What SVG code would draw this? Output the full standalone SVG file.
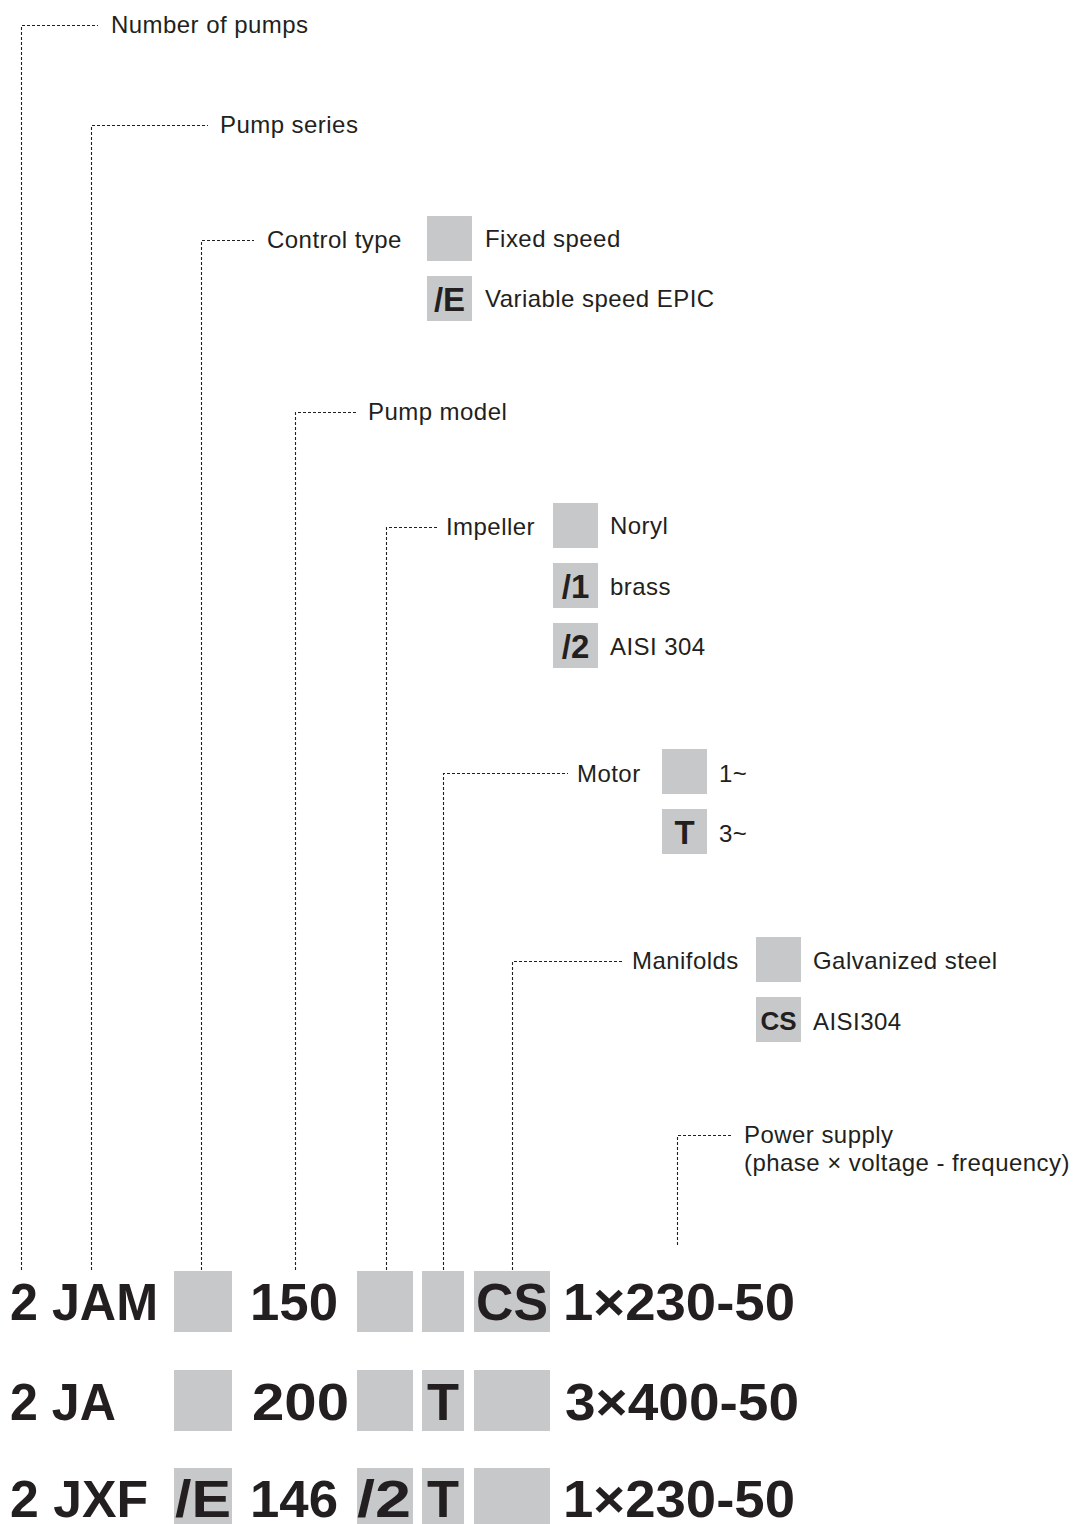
<svg xmlns="http://www.w3.org/2000/svg" width="1073" height="1524" viewBox="0 0 1073 1524">
<style>
.lbl{font-family:"Liberation Sans",Arial,sans-serif;font-size:24px;letter-spacing:0.45px;fill:#231f20}
.code{font-family:"Liberation Sans",Arial,sans-serif;font-weight:bold;font-size:33px;fill:#231f20;text-anchor:middle}
.big{font-family:"Liberation Sans",Arial,sans-serif;font-weight:bold;font-size:52px;fill:#231f20}
.box{fill:#c7c8ca}
.dash{fill:none;stroke:#231f20;stroke-width:1.1;stroke-dasharray:3 2}
</style>
<rect width="1073" height="1524" fill="#ffffff"/>
<g id="connectors">
<path class="dash" d="M21.5 1270 V25.5 H98"/>
<path class="dash" d="M91.5 1270 V125.5 H208"/>
<path class="dash" d="M201.5 1270 V240.5 H254"/>
<path class="dash" d="M295.5 1270 V412.5 H357"/>
<path class="dash" d="M386.5 1270 V527.5 H438"/>
<path class="dash" d="M443.5 1270 V773.5 H568"/>
<path class="dash" d="M512.5 1270 V961.5 H623"/>
<path class="dash" d="M677.5 1245 V1135.5 H733"/>
</g>
<g id="number-of-pumps"><text class="lbl" x="111" y="33">Number of pumps</text></g>
<g id="pump-series"><text class="lbl" x="220" y="133">Pump series</text></g>
<g id="control-type">
<text class="lbl" x="267" y="248">Control type</text>
<rect class="box" x="427" y="216" width="45" height="45"/>
<text class="lbl" x="485" y="247">Fixed speed</text>
<rect class="box" x="427" y="276" width="45" height="45"/>
<text class="code" x="449.5" y="311">/E</text>
<text class="lbl" x="485" y="307">Variable speed EPIC</text>
</g>
<g id="pump-model"><text class="lbl" x="368" y="420">Pump model</text></g>
<g id="impeller">
<text class="lbl" x="446" y="535">Impeller</text>
<rect class="box" x="553" y="503" width="45" height="45"/>
<text class="lbl" x="610" y="534">Noryl</text>
<rect class="box" x="553" y="563" width="45" height="45"/>
<text class="code" x="575.5" y="598">/1</text>
<text class="lbl" x="610" y="595">brass</text>
<rect class="box" x="553" y="623" width="45" height="45"/>
<text class="code" x="575.5" y="658">/2</text>
<text class="lbl" x="610" y="655">AISI 304</text>
</g>
<g id="motor">
<text class="lbl" x="577" y="782">Motor</text>
<rect class="box" x="662" y="749" width="45" height="45"/>
<text class="lbl" x="719" y="782">1~</text>
<rect class="box" x="662" y="809" width="45" height="45"/>
<text class="code" x="684.5" y="844">T</text>
<text class="lbl" x="719" y="842">3~</text>
</g>
<g id="manifolds">
<text class="lbl" x="632" y="969">Manifolds</text>
<rect class="box" x="756" y="937" width="45" height="45"/>
<text class="lbl" x="813" y="969">Galvanized steel</text>
<rect class="box" x="756" y="997" width="45" height="45"/>
<text class="code" x="778.5" y="1030" style="font-size:26px">CS</text>
<text class="lbl" x="813" y="1030">AISI304</text>
</g>
<g id="power-supply">
<text class="lbl" x="744" y="1143">Power supply</text>
<text class="lbl" x="744" y="1171">(phase × voltage - frequency)</text>
</g>
<g id="example-1">
<rect class="box" x="174" y="1271" width="58" height="61"/>
<rect class="box" x="357" y="1271" width="56" height="61"/>
<rect class="box" x="422" y="1271" width="42" height="61"/>
<rect class="box" x="474" y="1271" width="76" height="61"/>
<text class="big" x="10" y="1320" textLength="148" lengthAdjust="spacingAndGlyphs">2 JAM</text>
<text class="big" x="250" y="1320" textLength="88" lengthAdjust="spacingAndGlyphs">150</text>
<text class="big" x="476" y="1320" textLength="72" lengthAdjust="spacingAndGlyphs">CS</text>
<text class="big" x="563" y="1320" textLength="232" lengthAdjust="spacingAndGlyphs">1×230-50</text>
</g>
<g id="example-2">
<rect class="box" x="174" y="1370" width="58" height="61"/>
<rect class="box" x="357" y="1370" width="56" height="61"/>
<rect class="box" x="422" y="1370" width="42" height="61"/>
<rect class="box" x="474" y="1370" width="76" height="61"/>
<text class="big" x="10" y="1420" textLength="106" lengthAdjust="spacingAndGlyphs">2 JA</text>
<text class="big" x="252" y="1420" textLength="97" lengthAdjust="spacingAndGlyphs">200</text>
<text class="big" x="427" y="1420" textLength="32" lengthAdjust="spacingAndGlyphs">T</text>
<text class="big" x="565" y="1420" textLength="234" lengthAdjust="spacingAndGlyphs">3×400-50</text>
</g>
<g id="example-3">
<rect class="box" x="174" y="1468" width="58" height="61"/>
<rect class="box" x="357" y="1468" width="56" height="61"/>
<rect class="box" x="422" y="1468" width="42" height="61"/>
<rect class="box" x="474" y="1468" width="76" height="61"/>
<text class="big" x="10" y="1517" textLength="138" lengthAdjust="spacingAndGlyphs">2 JXF</text>
<text class="big" x="175" y="1517" textLength="56" lengthAdjust="spacingAndGlyphs">/E</text>
<text class="big" x="250" y="1517" textLength="88" lengthAdjust="spacingAndGlyphs">146</text>
<text class="big" x="357" y="1517" textLength="54" lengthAdjust="spacingAndGlyphs">/2</text>
<text class="big" x="427" y="1517" textLength="32" lengthAdjust="spacingAndGlyphs">T</text>
<text class="big" x="563" y="1517" textLength="232" lengthAdjust="spacingAndGlyphs">1×230-50</text>
</g>
</svg>
